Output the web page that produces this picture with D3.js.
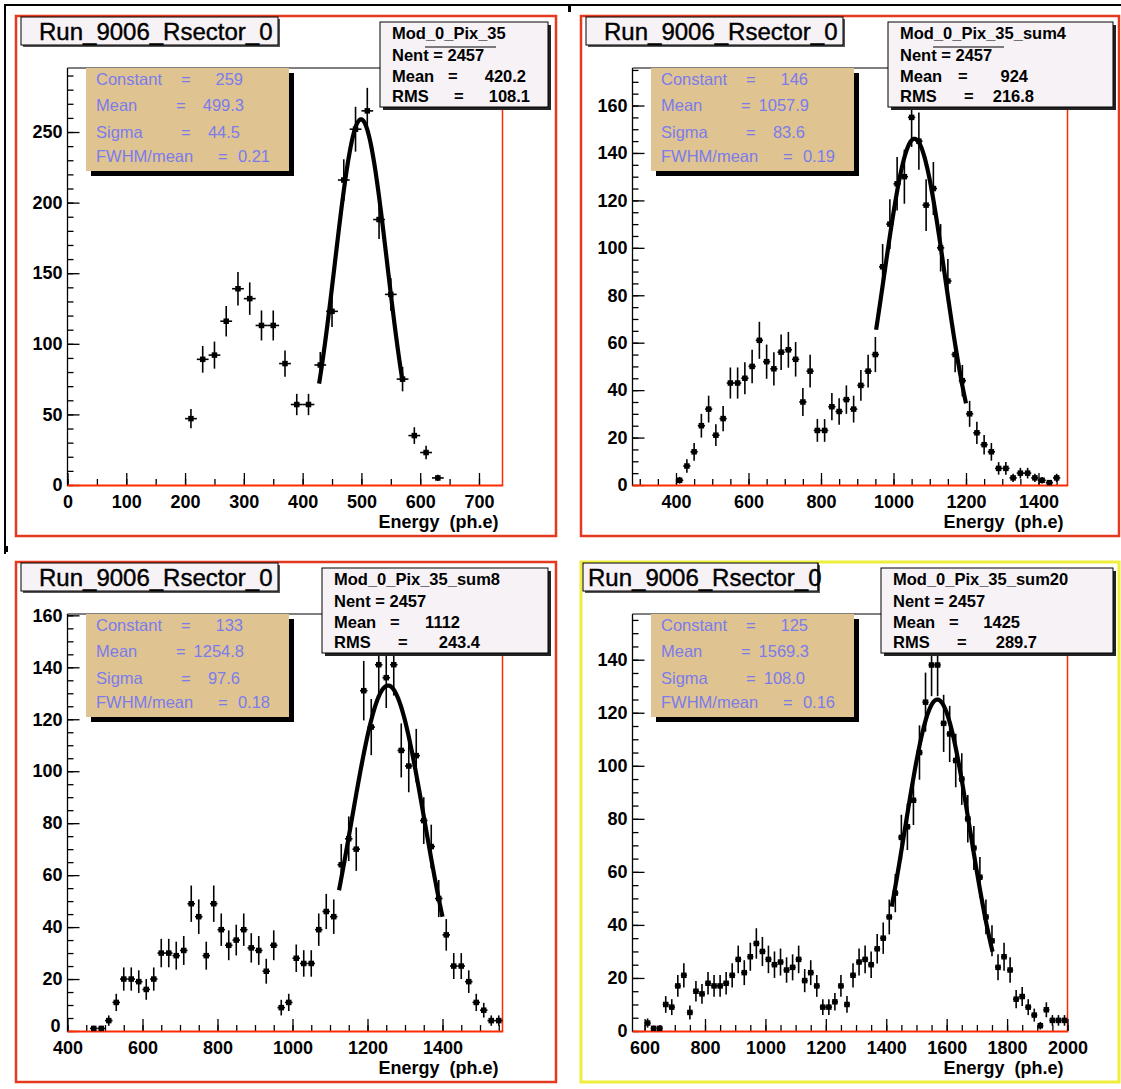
<!DOCTYPE html>
<html><head><meta charset="utf-8">
<script src="https://cdn.jsdelivr.net/npm/d3@7"></script>
<style>
body{margin:0;background:#fff;}
svg{display:block;}
text{font-family:"Liberation Sans",Arial,Helvetica,sans-serif;}
</style>
</head><body>
<svg id="c" width="1121" height="1089"></svg>
<script>
// ---------------- data ----------------
const padTitles = ["Run_9006_Rsector_0","Run_9006_Rsector_0","Run_9006_Rsector_0","Run_9006_Rsector_0"];
const histNames = ["Mod_0_Pix_35","Mod_0_Pix_35_sum4","Mod_0_Pix_35_sum8","Mod_0_Pix_35_sum20"];
const nEntries = [2457, 2457, 2457, 2457];
const statMeans = ["420.2", "924", "1112", "1425"];
const statRms = ["108.1", "216.8", "243.4", "289.7"];
const fitConstants = [259, 146, 133, 125];
const fitMeans = [499.3, 1057.9, 1254.8, 1569.3];
const fitSigmas = [44.5, 83.6, 97.6, 108.0];
const fwhmOverMean = ["0.21", "0.19", "0.18", "0.16"];
const xRanges = [[0, 740], [280, 1480], [400, 1560], [560, 2000]];
const fitRanges = [[428, 570], [952, 1200], [1124, 1400], [1418, 1752]];
const binWidth = 20;
const firstBinCenters = [210, 410, 470, 610];
const counts1 = [47,89,92,116,139,132,113,113,86,57,57,85,123,216,252,265,188,135,75,35,23,5];
const counts2 = [2,8,14,25,32,21,28,43,43,45,50,61,52,49,56,57,53,35,48,23,23,33,31,36,32,42,48,55,
                 92,110,127,130,155,145,118,125,100,86,55,44,30,22,17,14,7,7,3,5,5,3,2,1,3];
const counts3 = [1,1,4,11,20,20,19,16,20,30,30,29,31,49,44,29,49,39,33,35,39,32,31,23,33,9,11,28,26,26,
                 39,46,44,64,74,70,131,117,141,136,141,108,102,106,81,71,51,37,25,25,19,11,8,4,4];
const counts4 = [3,1,1,10,9,17,21,7,15,14,18,17,17,18,21,27,22,28,33,30,27,25,26,23,24,27,19,22,17,9,
                 9,11,17,10,21,26,27,25,31,35,43,52,73,77,87,105,124,138,138,116,112,102,95,80,69,58,43,34,24,28,
                 23,12,13,9,6,2,8,4,4,4];
const allCounts = [counts1, counts2, counts3, counts4];
const xTickLabels = [[0,100,200,300,400,500,600,700],[400,600,800,1000,1200,1400],[400,600,800,1000,1200,1400],[600,800,1000,1200,1400,1600,1800,2000]];
const xMinorSteps = [50, 50, 50, 50];
const yTickLabels = [[0,50,100,150,200,250],[0,20,40,60,80,100,120,140,160],[0,20,40,60,80,100,120,140,160],[0,20,40,60,80,100,120,140]];
const yMinorSteps = [10, 5, 5, 5];
const xTitle = "Energy  (ph.e)";

// ---------------- layout ----------------
const pads = [{x:16,y:16},{x:581,y:16},{x:16,y:562},{x:581,y:562}];
const padFrameColor = ["#e4391f","#e4391f","#e4391f","#eeee3c"];
const titleBox = [{x:5,w:257,tx:18},{x:5,w:257,tx:18},{x:5,w:257,tx:18},{x:2,w:235,tx:5}];
const statBox = [{x:364,w:168},{x:307,w:225},{x:306,w:226},{x:300,w:232}];
const fitBoxX = 70, fitBoxW = 203;
const PL = 51.5, PR = 486.5, PT = 52, PB = 469;
const BLUE = "#7b7bea", TAN = "#dfc492", BOXFILL = "#f7f2f6";

const svg = d3.select("#c");
svg.append("rect").attr("width",1121).attr("height",1089).attr("fill","#fff");

// canvas marks
svg.append("line").attr("x1",4).attr("x2",1121).attr("y1",5).attr("y2",5).attr("stroke","#000").attr("stroke-width",2);
svg.append("line").attr("x1",5).attr("x2",5).attr("y1",4).attr("y2",554).attr("stroke","#000").attr("stroke-width",2);
svg.append("rect").attr("x",568).attr("y",4).attr("width",3).attr("height",8).attr("fill","#000");
svg.append("rect").attr("x",4).attr("y",546).attr("width",4).attr("height",6).attr("fill","#000");

pads.forEach((p, i) => {
  const g = svg.append("g").attr("transform", `translate(${p.x},${p.y})`);
  const counts = allCounts[i];
  const centers = counts.map((c, k) => firstBinCenters[i] + k * binWidth);
  const yMax = 1.05 * d3.max(counts, c => c + Math.sqrt(c));
  const x = d3.scaleLinear().domain(xRanges[i]).range([PL, PR]);
  const y = d3.scaleLinear().domain([0, yMax]).range([PB, PT]);

  // pad frame
  g.append("rect").attr("x",0).attr("y",0).attr("width",i%2===1?538:540).attr("height",520)
    .attr("fill","#fff").attr("stroke",padFrameColor[i]).attr("stroke-width", i===3?3:2.5);

  // title box
  const tb = titleBox[i];
  g.append("rect").attr("x",tb.x+2).attr("y",3).attr("width",tb.w).attr("height",28).attr("fill","#555");
  g.append("rect").attr("x",tb.x).attr("y",1).attr("width",tb.w).attr("height",28)
    .attr("fill",BOXFILL).attr("stroke","#000").attr("stroke-width",1);
  g.append("text").attr("x",tb.x+tb.tx).attr("y",23.5).attr("font-size",24)
    .attr("fill","#000").attr("stroke","#000").attr("stroke-width",0.4).text(padTitles[i]);
  if (i === 3) {
    g.append("line").attr("x1",tb.x+tb.w).attr("x2",tb.x+tb.w).attr("y1",1).attr("y2",29).attr("stroke","#000").attr("stroke-width",1);
  }

  // plot frame
  g.append("line").attr("x1",PL).attr("x2",PR).attr("y1",PT).attr("y2",PT).attr("stroke","#000").attr("stroke-width",1);
  g.append("line").attr("x1",PR).attr("x2",PR).attr("y1",PT).attr("y2",PB).attr("stroke","#ff2a00").attr("stroke-width",1.5);

  // axes
  const xMinor = d3.range(Math.ceil(xRanges[i][0]/xMinorSteps[i])*xMinorSteps[i], xRanges[i][1]+0.1, xMinorSteps[i]);
  const yMinor = d3.range(0, yMax, yMinorSteps[i]);
  const axX = g.append("g").attr("transform",`translate(0,${PB})`);
  axX.append("g").call(d3.axisBottom(x).tickValues(xMinor).tickSize(-6).tickFormat(""));
  axX.append("g").call(d3.axisBottom(x).tickValues(xTickLabels[i]).tickSize(-12).tickPadding(10).tickFormat(d3.format("d")));
  const axY = g.append("g").attr("transform",`translate(${PL},0)`);
  axY.append("g").call(d3.axisLeft(y).tickValues(yMinor).tickSize(-6).tickFormat(""));
  const yLab = axY.append("g").call(d3.axisLeft(y).tickValues(yTickLabels[i]).tickSize(-12).tickPadding(5).tickFormat(d3.format("d")));
  g.selectAll(".domain").remove();
  g.selectAll(".tick line").attr("stroke","#000").attr("stroke-width",1.3);
  g.selectAll(".tick text").attr("font-size",18).attr("font-weight","bold").attr("fill","#000")
    .style("font-family",'"Liberation Sans",Arial,sans-serif');
  // when the x axis starts with a labelled tick, the y "0" label sits a little higher and to the left
  if (xTickLabels[i][0] === xRanges[i][0] && i === 2) {
    yLab.selectAll(".tick text").filter(d => d === 0).attr("dy","0.05em").attr("x",-7);
  }
  g.append("line").attr("x1",PL).attr("x2",PL).attr("y1",PT).attr("y2",PB+1).attr("stroke","#000").attr("stroke-width",1.3);
  g.append("line").attr("x1",PL).attr("x2",PR+0.75).attr("y1",PB+0.5).attr("y2",PB+0.5).attr("stroke","#ff2a00").attr("stroke-width",2);
  g.append("text").attr("x",PR-4).attr("y",PB+43).attr("text-anchor","end").attr("font-size",18)
    .attr("font-weight","bold").style("white-space","pre").text(xTitle);

  // data points with error bars
  const dg = g.append("g");
  counts.forEach((c, k) => {
    if (c <= 0) return;
    const cx = x(centers[k]), cy = y(c), e = Math.sqrt(c);
    dg.append("line").attr("x1",cx).attr("x2",cx).attr("y1",Math.max(PT,y(c+e))).attr("y2",y(c-e))
      .attr("stroke","#000").attr("stroke-width",1.6);
    dg.append("line").attr("x1",x(centers[k]-binWidth/2)).attr("x2",x(centers[k]+binWidth/2)).attr("y1",cy).attr("y2",cy)
      .attr("stroke","#000").attr("stroke-width",1.6);
    dg.append("rect").attr("x",cx-2.75).attr("y",cy-2.75).attr("width",5.5).attr("height",5.5).attr("fill","#000");
  });

  // gaussian fit curve
  const [f0, f1] = fitRanges[i];
  const fx = d3.range(0, 101).map(t => f0 + (f1 - f0) * t / 100);
  const gauss = v => fitConstants[i] * Math.exp(-0.5 * Math.pow((v - fitMeans[i]) / fitSigmas[i], 2));
  g.append("path").datum(fx).attr("fill","none").attr("stroke","#000").attr("stroke-width",4.2)
    .attr("stroke-linejoin","round")
    .attr("d", d3.line().x(v => x(v)).y(v => y(gauss(v))));

  // fit parameter box
  g.append("rect").attr("x",fitBoxX+5).attr("y",PT+5).attr("width",fitBoxW).attr("height",103).attr("fill","#000");
  g.append("rect").attr("x",fitBoxX).attr("y",PT).attr("width",fitBoxW).attr("height",103).attr("fill",TAN);
  const fitLines = [
    ["Constant", "=", String(fitConstants[i]), 95, 157],
    ["Mean", "=", fitMeans[i].toFixed(1), 90, 158],
    ["Sigma", "=", fitSigmas[i].toFixed(1), 95, 154],
    ["FWHM/mean", "=", fwhmOverMean[i], 132, 184]
  ];
  const fyy = [17, 43, 70, 94];
  fitLines.forEach((L, k) => {
    const by = PT + fyy[k];
    g.append("text").attr("x",fitBoxX+10).attr("y",by).attr("font-size",16.5).attr("fill",BLUE).text(L[0]);
    g.append("text").attr("x",fitBoxX+L[3]).attr("y",by).attr("font-size",16.5).attr("fill",BLUE).text(L[1]);
    g.append("text").attr("x",fitBoxX+L[4]).attr("y",by).attr("font-size",16.5).attr("fill",BLUE)
      .attr("text-anchor","end").text(L[2]);
  });

  // stats box
  const sb = statBox[i];
  g.append("rect").attr("x",sb.x+3).attr("y",9).attr("width",sb.w).attr("height",85).attr("fill","#222");
  g.append("rect").attr("x",sb.x).attr("y",6).attr("width",sb.w).attr("height",85)
    .attr("fill",BOXFILL).attr("stroke","#000").attr("stroke-width",1);
  const st = [
    [histNames[i], null, null],
    ["Nent = " + nEntries[i], null, null],
    ["Mean", "=", statMeans[i]],
    ["RMS", "=", statRms[i]]
  ];
  const sy = [23, 45, 66, 86];
  const eqX = [[68, 74], [70, 76], [68, 76], [68, 76]];
  const valEnd = [[146, 150], [140, 146], [138, 158], [139, 156]];
  st.forEach((L, k) => {
    g.append("text").attr("x",sb.x+12).attr("y",sy[k]).attr("font-size",16.5).attr("font-weight","bold").text(L[0]);
    if (L[1]) {
      g.append("text").attr("x",sb.x+eqX[i][k-2]).attr("y",sy[k]).attr("font-size",16.5).attr("font-weight","bold").text(L[1]);
      g.append("text").attr("x",sb.x+valEnd[i][k-2]).attr("y",sy[k]).attr("font-size",16.5).attr("font-weight","bold")
        .attr("text-anchor","end").text(L[2]);
    }
  });
  if (i < 2) {
    g.append("line").attr("x1",sb.x+45).attr("x2",sb.x+116).attr("y1",31).attr("y2",31).attr("stroke","#000").attr("stroke-width",1.2);
  }
});
</script>
</body></html>
